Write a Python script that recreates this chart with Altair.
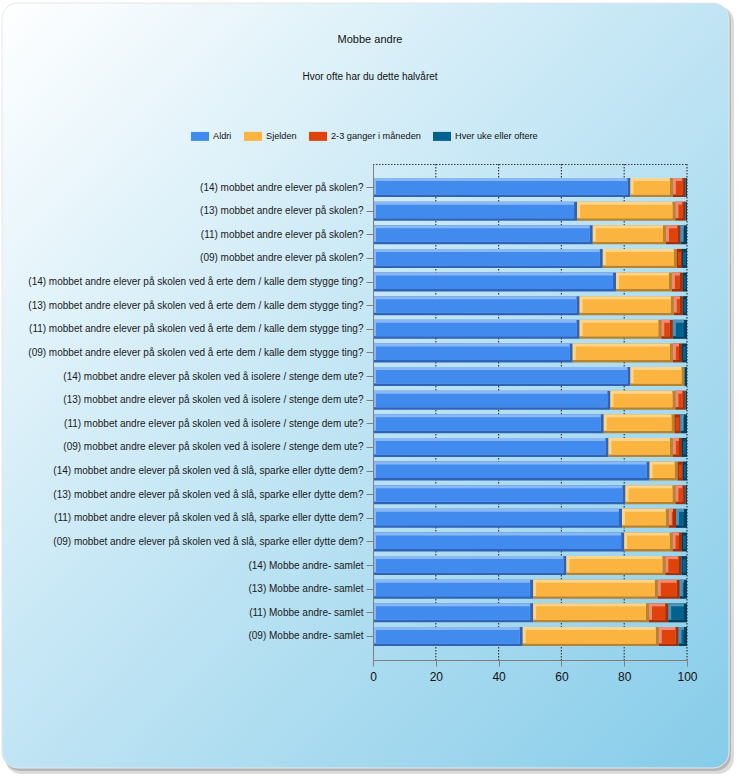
import altair as alt
import pandas as pd

title_text = "Mobbe andre"
subtitle_text = "Hvor ofte har du dette halvåret"

questions = [
    "(14) mobbet andre elever på skolen?",
    "(13) mobbet andre elever på skolen?",
    "(11) mobbet andre elever på skolen?",
    "(09) mobbet andre elever på skolen?",
    "(14) mobbet andre elever på skolen ved å erte dem / kalle dem stygge ting?",
    "(13) mobbet andre elever på skolen ved å erte dem / kalle dem stygge ting?",
    "(11) mobbet andre elever på skolen ved å erte dem / kalle dem stygge ting?",
    "(09) mobbet andre elever på skolen ved å erte dem / kalle dem stygge ting?",
    "(14) mobbet andre elever på skolen ved å isolere / stenge dem ute?",
    "(13) mobbet andre elever på skolen ved å isolere / stenge dem ute?",
    "(11) mobbet andre elever på skolen ved å isolere / stenge dem ute?",
    "(09) mobbet andre elever på skolen ved å isolere / stenge dem ute?",
    "(14) mobbet andre elever på skolen ved å slå, sparke eller dytte dem?",
    "(13) mobbet andre elever på skolen ved å slå, sparke eller dytte dem?",
    "(11) mobbet andre elever på skolen ved å slå, sparke eller dytte dem?",
    "(09) mobbet andre elever på skolen ved å slå, sparke eller dytte dem?",
    "(14) Mobbe andre- samlet",
    "(13) Mobbe andre- samlet",
    "(11) Mobbe andre- samlet",
    "(09) Mobbe andre- samlet",
]

categories = ["Aldri", "Sjelden", "2-3 ganger i måneden", "Hver uke eller oftere"]

aldri = [82.0, 65.0, 70.0, 73.2, 77.4, 65.8, 65.8, 63.6, 82.0, 75.6,
         73.5, 75.0, 88.1, 80.4, 79.3, 80.0, 61.6, 51.0, 51.0, 47.7]
sjelden = [13.5, 31.3, 23.3, 23.6, 17.8, 30.0, 26.0, 31.9, 17.2, 20.7,
           22.5, 20.5, 8.9, 15.9, 14.9, 15.4, 31.5, 39.7, 36.9, 43.3]
ganger = [4.0, 3.2, 4.6, 1.6, 3.5, 2.9, 3.7, 2.9, 0.0, 3.2,
          1.9, 2.9, 1.7, 3.2, 2.3, 3.0, 5.1, 7.0, 6.1, 6.3]
hver = [0.5, 0.5, 2.1, 1.6, 1.3, 1.3, 4.5, 1.6, 0.8, 0.5,
        2.1, 1.6, 1.3, 0.5, 3.5, 1.6, 1.8, 2.3, 6.0, 2.7]

x_ticks = [0, 20, 40, 60, 80, 100]
grid_vals = [20, 40, 60, 80, 100]

main_colors = ["#428BEE", "#FBB43F", "#E0420B", "#01628F"]
light_colors = ["#8AB8F6", "#FFD58C", "#EF8C74", "#4E94B5"]
dark_colors = ["#2E63B8", "#B7832D", "#A3300A", "#00405E"]

rows = []
for i, q in enumerate(questions):
    for k, (cat, vals) in enumerate(zip(categories, [aldri, sjelden, ganger, hver])):
        rows.append({"question": q, "category": cat, "order": k, "value": vals[i]})
df = pd.DataFrame(rows)

W, H = 314, 496
FONT = "Liberation Sans"

y_enc = alt.Y(
    "question:N", sort=questions,
    scale=alt.Scale(paddingInner=0.196, paddingOuter=0.593),
    axis=alt.Axis(title=None, labelFont=FONT, labelFontSize=10, labelColor="#1a1a1a",
                  tickSize=7, tickColor="#7f7f7f", domainColor="#7f7f7f",
                  labelPadding=3, labelLimit=500, zindex=1),
)
x_scale = alt.Scale(domain=[0, 100], nice=False)
x_axis = alt.Axis(title=None, values=x_ticks, grid=False, labelFont=FONT, labelFontSize=12,
                  labelColor="#111111", tickSize=6, tickColor="#7f7f7f",
                  domainColor="#7f7f7f", labelPadding=5, labelFlush=False, zindex=1)

base = alt.Chart(df).transform_stack(
    stack="value", groupby=["question"], as_=["x0", "x1"],
    sort=[alt.SortField("order", order="ascending")],
)

def col(rng, legend=None):
    return alt.Color("category:N", scale=alt.Scale(domain=categories, range=rng),
                     sort=categories, legend=legend)

def xe():
    return alt.X("x0:Q", scale=x_scale, axis=x_axis)

dark = base.transform_filter("datum.value > 0").mark_bar(height=19).encode(
    y=y_enc, x=xe(), x2="x1:Q", color=col(dark_colors),
)
light = base.transform_filter("datum.value >= 2").mark_bar(
    height=16.5, yOffset=-1.25, x2Offset=-3
).encode(y=y_enc, x=xe(), x2="x1:Q", color=col(light_colors))
small = base.transform_filter("datum.value > 0.9 && datum.value < 2").mark_bar(
    height=13.5, yOffset=0.25, xOffset=1, x2Offset=-1
).encode(y=y_enc, x=xe(), x2="x1:Q", color=col(main_colors))

legend = alt.Legend(
    orient="none", legendX=-182, legendY=-37, direction="horizontal", columns=4,
    title=None, symbolType="M-1,-0.5L1,-0.5L1,0.5L-1,0.5Z", symbolSize=324,
    symbolStrokeWidth=0, symbolOpacity=1, labelFont=FONT, labelFontSize=9.2,
    labelColor="#111111", columnPadding=12, labelOffset=4, padding=0, zindex=1,
)
main = base.transform_filter("datum.value >= 2").mark_bar(
    height=13.5, yOffset=0.25, xOffset=3, x2Offset=-3
).encode(y=y_enc, x=xe(), x2="x1:Q", color=col(main_colors, legend))

one = pd.DataFrame({"a": [0]})
shadow1 = alt.Chart(one).mark_rect(cornerRadius=16, fill="#9a9a9a", opacity=0.35).encode(
    x=alt.value(-368), x2=alt.value(361), y=alt.value(-158), y2=alt.value(610))
shadow2 = alt.Chart(one).mark_rect(cornerRadius=16, fill="#888888", opacity=0.45).encode(
    x=alt.value(-369), x2=alt.value(358), y=alt.value(-159), y2=alt.value(607))
panel = alt.Chart(one).mark_rect(
    cornerRadius=16,
    fill=alt.LinearGradient(
        gradient="linear", x1=0, y1=0, x2=1, y2=1,
        stops=[alt.GradientStop(color="#ffffff", offset=0),
               alt.GradientStop(color="#c6e7f5", offset=0.45),
               alt.GradientStop(color="#86cce9", offset=1)],
    ),
    stroke="#e6e6e6", strokeWidth=1,
).encode(x=alt.value(-371), x2=alt.value(356), y=alt.value(-161), y2=alt.value(604))

grid = alt.Chart(pd.DataFrame({"g": grid_vals})).mark_rule(
    color="#3a3a3a", strokeDash=[1.5, 1.5], strokeWidth=1.2
).encode(x=alt.X("g:Q", scale=x_scale, axis=x_axis), y=alt.value(0), y2=alt.value(H))
top_border = alt.Chart(one).mark_rule(color="#3a3a3a", strokeDash=[1.5, 1.5], strokeWidth=1.2).encode(
    x=alt.value(0), x2=alt.value(W), y=alt.value(0.5))

title = alt.Chart(pd.DataFrame({"t": [title_text]})).mark_text(
    font=FONT, fontSize=11, color="#111111", baseline="middle", align="center"
).encode(text="t:N", x=alt.value(-3), y=alt.value(-124))
subtitle = alt.Chart(pd.DataFrame({"t": [subtitle_text]})).mark_text(
    font=FONT, fontSize=10, color="#111111", baseline="middle", align="center"
).encode(text="t:N", x=alt.value(-3), y=alt.value(-87))

chart = alt.layer(
    shadow1, shadow2, panel, grid, top_border, dark, light, main, small, title, subtitle
).resolve_scale(color="independent").properties(
    width=W, height=H,
    autosize=alt.AutoSizeParams(type="none"),
    padding={"left": 373, "top": 164, "right": 53, "bottom": 120},
    background="#ffffff",
).configure_view(stroke=None).configure(font=FONT)

chart.save("out.html", embed_options={"renderer": "svg", "actions": False})
